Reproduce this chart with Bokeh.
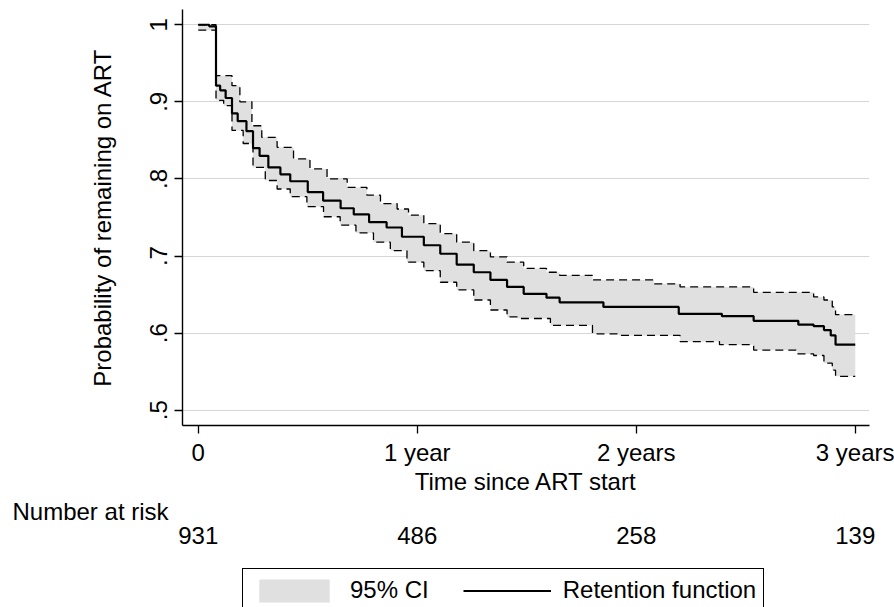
import numpy as np
from bokeh.plotting import figure
from bokeh.layouts import column
from bokeh.models import Range1d, FixedTicker, LinearAxis, Title, Legend, LegendItem
from bokeh.embed import file_html
from bokeh.resources import INLINE

# ---- data (time in years) ----
time_S = [0.0, 0.05, 0.081, 0.10, 0.125, 0.154, 0.18, 0.22, 0.25, 0.28, 0.32, 0.375,
          0.42, 0.50, 0.57, 0.65, 0.71, 0.78, 0.86, 0.93, 1.03, 1.105, 1.18, 1.258,
          1.334, 1.41, 1.486, 1.59, 1.65, 1.85, 2.194, 2.391, 2.536, 2.74, 2.81,
          2.857, 2.888, 2.91, 3.0]
surv = [1.0, 0.998, 0.921, 0.915, 0.905, 0.885, 0.875, 0.862, 0.840, 0.830, 0.815, 0.806,
        0.797, 0.783, 0.772, 0.762, 0.754, 0.744, 0.737, 0.725, 0.714, 0.703, 0.689, 0.679,
        0.669, 0.660, 0.651, 0.646, 0.640, 0.634, 0.625, 0.622, 0.616, 0.611, 0.609,
        0.604, 0.597, 0.585, 0.585]

time_U = [0.0, 0.081, 0.154, 0.19, 0.245, 0.29, 0.36, 0.435, 0.51, 0.588, 0.68, 0.77,
          0.832, 0.908, 0.96, 1.03, 1.105, 1.18, 1.258, 1.334, 1.41, 1.486, 1.59, 1.65,
          1.80, 2.08, 2.20, 2.536, 2.81, 2.857, 2.895, 2.91, 3.0]
upper = [1.0, 0.934, 0.921, 0.900, 0.869, 0.854, 0.841, 0.826, 0.813, 0.800, 0.789, 0.779,
         0.768, 0.761, 0.753, 0.742, 0.729, 0.718, 0.707, 0.699, 0.692, 0.684, 0.679, 0.675,
         0.669, 0.664, 0.660, 0.653, 0.647, 0.643, 0.634, 0.624, 0.624]

time_L = [0.0, 0.081, 0.116, 0.154, 0.205, 0.25, 0.306, 0.36, 0.42, 0.496, 0.572, 0.648,
          0.72, 0.80, 0.877, 0.953, 1.03, 1.105, 1.18, 1.258, 1.334, 1.41, 1.456, 1.608,
          1.80, 1.92, 2.20, 2.38, 2.536, 2.735, 2.81, 2.857, 2.895, 2.91, 3.0]
lower = [0.993, 0.902, 0.895, 0.863, 0.846, 0.815, 0.798, 0.787, 0.777, 0.764, 0.751, 0.740,
         0.730, 0.718, 0.707, 0.692, 0.681, 0.666, 0.656, 0.643, 0.630, 0.621, 0.619, 0.610,
         0.599, 0.597, 0.589, 0.585, 0.578, 0.573, 0.571, 0.561, 0.552, 0.544, 0.544]

x_ticks = [0, 1, 2, 3]
x_tick_labels = ["0", "1 year", "2 years", "3 years"]
y_ticks = [0.5, 0.6, 0.7, 0.8, 0.9, 1.0]
y_tick_labels = [".5", ".6", ".7", ".8", ".9", "1"]
at_risk = ["931", "486", "258", "139"]

FONT = "Liberation Sans"
FS = "24px"

X0, X1 = -0.072, 3.065
Y0, Y1 = 0.4802, 1.0198
W = 894
BL, BR = 182, 25

BAND_COLOR = "#e0e0e0"


def step_xy(t, v):
    xs, ys = [], []
    for i in range(len(t)):
        if i > 0:
            xs.append(t[i])
            ys.append(v[i - 1])
        xs.append(t[i])
        ys.append(v[i])
    return xs, ys


sx, sy = step_xy(time_S, surv)
ux, uy = step_xy(time_U, upper)
lx, ly = step_xy(time_L, lower)
band_x = ux + lx[::-1]
band_y = uy + ly[::-1]

p = figure(width=W, height=567,
           x_range=Range1d(X0, X1), y_range=Range1d(Y0, Y1),
           output_backend="svg", toolbar_location=None,
           min_border_left=BL, min_border_right=BR, min_border_top=9, min_border_bottom=142)
p.outline_line_color = None
p.background_fill_color = "white"
p.border_fill_color = "white"

p.patch(band_x, band_y, fill_color=BAND_COLOR, line_color=None)
p.line(ux, uy, line_color="black", line_width=1.3, line_dash="8 5")
p.line(lx, ly, line_color="black", line_width=1.3, line_dash="8 5")
p.line(sx, sy, line_color="black", line_width=2.2)

# grid
p.xgrid.visible = False
p.ygrid.ticker = FixedTicker(ticks=y_ticks)
p.ygrid.grid_line_color = "#d6d6d6"
p.ygrid.grid_line_width = 1.2

# y axis
ya = p.yaxis[0]
ya.ticker = FixedTicker(ticks=y_ticks)
ya.major_label_overrides = {k: v for k, v in zip(y_ticks, y_tick_labels)}
ya.major_label_orientation = "vertical"
ya.minor_tick_line_color = None
ya.major_tick_in = 0
ya.major_tick_out = 8
ya.major_label_standoff = 7
ya.axis_line_width = 1.4
ya.major_tick_line_width = 1.3
ya.major_label_text_font = FONT
ya.major_label_text_font_size = FS
ya.major_label_text_color = "black"
ya.axis_label = "Probability of remaining on ART"
ya.axis_label_text_font = FONT
ya.axis_label_text_font_size = FS
ya.axis_label_text_font_style = "normal"
ya.axis_label_text_color = "black"
ya.axis_label_standoff = 32

# x axis
xa = p.xaxis[0]
xa.ticker = FixedTicker(ticks=x_ticks)
xa.major_label_overrides = {k: v for k, v in zip(x_ticks, x_tick_labels)}
xa.minor_tick_line_color = None
xa.major_tick_in = 0
xa.major_tick_out = 8
xa.major_label_standoff = 5
xa.axis_line_width = 1.4
xa.major_tick_line_width = 1.3
xa.major_label_text_font = FONT
xa.major_label_text_font_size = FS
xa.major_label_text_color = "black"
xa.axis_label = "Time since ART start"
xa.axis_label_text_font = FONT
xa.axis_label_text_font_size = FS
xa.axis_label_text_font_style = "normal"
xa.axis_label_text_color = "black"
xa.axis_label_standoff = -1

# number at risk heading (left-aligned to the page edge)
risk_title = Title(text="Number at risk", align="left", offset=12 - BL,
                   vertical_align="top",
                   text_font=FONT, text_font_size=FS, text_font_style="normal",
                   text_color="black", standoff=0)
p.add_layout(risk_title, "below")

# number at risk row, on the same time scale
risk_axis = LinearAxis(ticker=FixedTicker(ticks=x_ticks),
                       major_label_overrides={k: v for k, v in zip(x_ticks, at_risk)})
risk_axis.axis_line_color = None
risk_axis.major_tick_line_color = None
risk_axis.minor_tick_line_color = None
risk_axis.major_tick_in = 0
risk_axis.major_tick_out = 0
risk_axis.major_label_standoff = 0
risk_axis.major_label_text_font = FONT
risk_axis.major_label_text_font_size = FS
risk_axis.major_label_text_color = "black"
p.add_layout(risk_axis, "below")

# ---- legend strip (keys drawn from the same series, kept out of its view) ----
H2 = 40
p2 = figure(width=W, height=H2, x_range=Range1d(X0, X1), y_range=Range1d(2, 3),
            output_backend="svg", toolbar_location=None,
            x_axis_type=None, y_axis_type=None,
            min_border_left=BL, min_border_right=BR, min_border_top=0, min_border_bottom=0)
p2.outline_line_color = None
p2.grid.visible = False
p2.background_fill_color = "white"
p2.border_fill_color = "white"

key_band = p2.patch(band_x, band_y, fill_color=BAND_COLOR, line_color=None)
key_line = p2.line(sx, sy, line_color="black", line_width=2)
legend = Legend(items=[LegendItem(label="95% CI", renderers=[key_band]),
                       LegendItem(label="Retention function", renderers=[key_line])],
                orientation="horizontal", location=(60, -5.5),
                label_text_font=FONT, label_text_font_size=FS, label_text_color="black",
                glyph_width=88, glyph_height=29, label_standoff=12, spacing=34,
                padding=7, margin=0, border_line_color="black", border_line_width=1.2,
                border_line_alpha=1, background_fill_alpha=1)
p2.add_layout(legend, "center")

layout = column(p, p2, spacing=0)
open("out.html", "w").write(file_html(layout, INLINE))
